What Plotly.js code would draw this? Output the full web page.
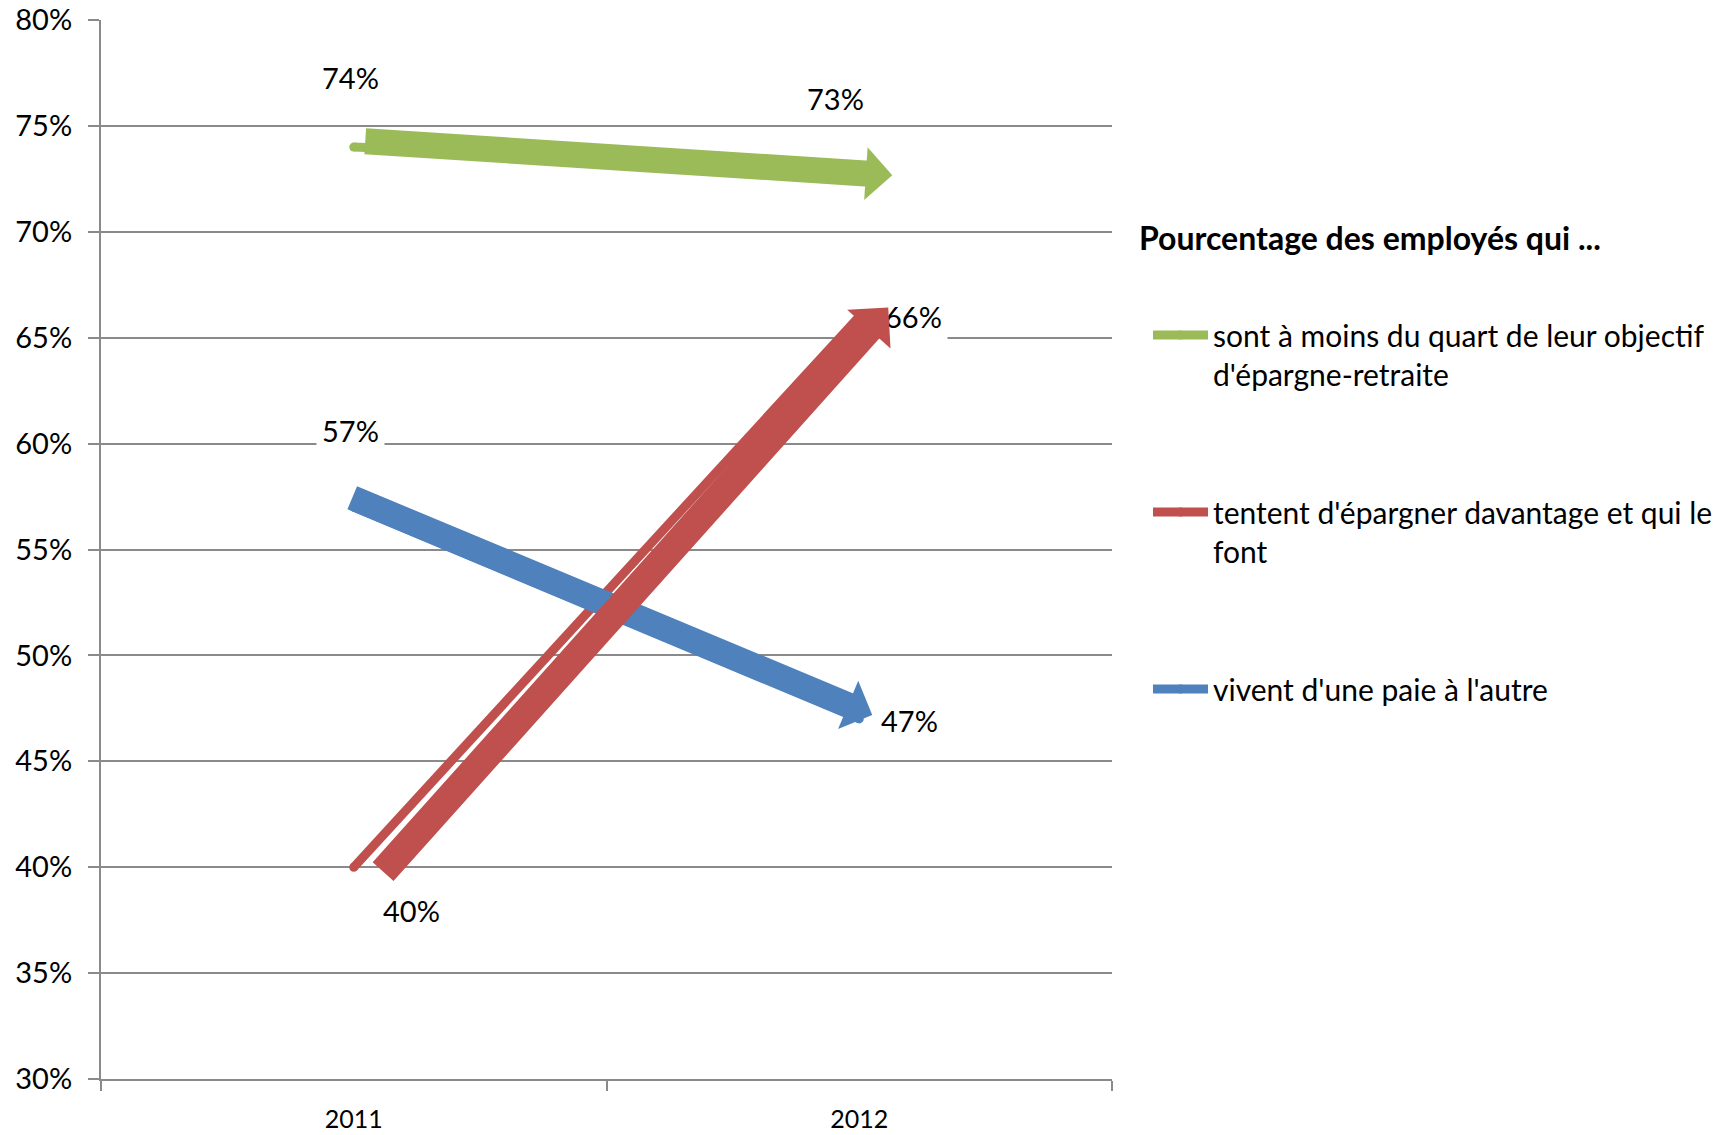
<!DOCTYPE html>
<html><head><meta charset="utf-8">
<script src="https://cdn.plot.ly/plotly-3.0.1.min.js"></script>
<style>html,body{margin:0;padding:0;background:#fff}#chart{width:1730px;height:1135px}</style>
</head><body><div id="chart"></div>
<script>
// ---------- DATA ----------
const categories = ['2011', '2012'];
const seriesNames = [
  "sont à moins du quart de leur objectif<br>d'épargne-retraite",
  "tentent d'épargner davantage et qui le<br>font",
  "vivent d'une paie à l'autre"
];
const quartObjectif = [74, 73];
const epargnerDavantage = [40, 66];
const paieAutre = [57, 47];
const yTickValues = [30, 35, 40, 45, 50, 55, 60, 65, 70, 75, 80];
const legendTitle = 'Pourcentage des employés qui ...';

// ---------- STYLE ----------
const W = 1730, H = 1135;
const M = {l: 101, r: 618, t: 20, b: 56};
const plotW = W - M.l - M.r, plotH = H - M.t - M.b;
const yMin = 30, yMax = 80;
const pxPerCat = plotW / categories.length;
const pxPerPct = plotH / (yMax - yMin);
const FONT = 'Lato, "Open Sans", sans-serif';
const GRID = '#8a8a8a';

// offsets in screen pixels (dx right, dy down) relative to the data points
const series = [
  {name: seriesNames[0], values: quartObjectif, color: '#9BBB59', arrowW: 26, head: 8.8,
   tail: [10, -6], tip: [33, 7], labels: [[-3, -70], [-24, -70]]},
  {name: seriesNames[1], values: epargnerDavantage, color: '#C0504D', arrowW: 28, head: 9.7,
   tail: [28, 6], tip: [29, -9], labels: [[58, 43], [54, 0]]},
  {name: seriesNames[2], values: paieAutre, color: '#4F81BD', arrowW: 25, head: 8.7,
   tail: [-3, -10], tip: [13, -4], labels: [[-3, -77], [50, 2]]}
];

const traces = series.map((s, i) => ({
  type: 'scatter', mode: 'lines+markers', name: s.name,
  x: categories, y: s.values, legendgroup: 'g' + i,
  line: {color: s.color, width: 9},
  marker: {color: s.color, size: 9},
  hoverinfo: 'x+y'
}));

const annotations = [];
// data labels
series.forEach(s => {
  s.values.forEach((v, i) => {
    annotations.push({
      x: i, y: v, xref: 'x', yref: 'y', text: v + '%', showarrow: false,
      xshift: s.labels[i][0], yshift: -s.labels[i][1],
      font: {family: FONT, size: 29, color: '#000'},
      bgcolor: '#ffffff', borderpad: 5
    });
  });
});
// thick arrows (green, blue, red on top): shaft + separate head
[0, 2, 1].forEach(k => {
  const s = series[k];
  // tail & tip in pixel space (x right, y up), relative to category 0 / value 0
  const tx = 0 * pxPerCat + s.tail[0], ty = s.values[0] * pxPerPct - s.tail[1];
  const px = 1 * pxPerCat + s.tip[0],  py = s.values[1] * pxPerPct - s.tip[1];
  const len = Math.hypot(px - tx, py - ty);
  const ux = (px - tx) / len, uy = (py - ty) / len;
  const headLen = 3 * s.head;
  const sx = px - ux * (headLen - 3), sy = py - uy * (headLen - 3);
  const bx = px - ux * headLen, by = py - uy * headLen;
  const toX = v => v / pxPerCat, toY = v => v / pxPerPct;
  annotations.push({
    xref: 'x', yref: 'y', axref: 'x', ayref: 'y',
    x: toX(sx), y: toY(sy), ax: toX(tx), ay: toY(ty),
    text: '', showarrow: true, arrowhead: 0,
    arrowwidth: s.arrowW, arrowcolor: s.color, standoff: 0, startstandoff: 0
  });
  annotations.push({
    xref: 'x', yref: 'y', axref: 'x', ayref: 'y',
    x: toX(px), y: toY(py), ax: toX(bx), ay: toY(by),
    text: '', showarrow: true, arrowhead: 1, arrowsize: s.head,
    arrowwidth: 1, arrowcolor: s.color, standoff: 0, startstandoff: 0
  });
});
// legend title
annotations.push({
  xref: 'paper', yref: 'paper', x: (1137 - M.l) / plotW, y: 1 - (237 - M.t) / plotH,
  xanchor: 'left', yanchor: 'middle', showarrow: false, text: legendTitle,
  font: {family: FONT, size: 32, color: '#000', weight: 700}
});

const layout = {
  width: W, height: H, margin: M,
  paper_bgcolor: '#fff', plot_bgcolor: '#fff',
  showlegend: true,
  legend: {
    x: (1148 - M.l) / plotW, xanchor: 'left',
    y: 1 - (309 - M.t) / plotH, yanchor: 'top',
    font: {family: FONT, size: 30, color: '#000'},
    itemwidth: 55, traceorder: 'grouped', tracegroupgap: 96, valign: 'top',
    bgcolor: 'rgba(0,0,0,0)'
  },
  xaxis: {
    type: 'category', categoryorder: 'array', categoryarray: categories,
    range: [-0.5, categories.length - 0.5],
    tickson: 'boundaries', ticks: 'outside', ticklen: 10, tickwidth: 2, tickcolor: GRID,
    showline: true, linecolor: GRID, linewidth: 2, showgrid: false, zeroline: false,
    tickfont: {family: FONT, size: 25, color: '#000'}, ticklabelstandoff: 17,
    fixedrange: true
  },
  yaxis: {
    range: [yMin, yMax], tickvals: yTickValues, ticktext: yTickValues.map(v => v + '%'),
    ticks: 'outside', ticklen: 11, tickwidth: 2, tickcolor: GRID,
    showline: true, linecolor: GRID, linewidth: 2,
    showgrid: true, gridcolor: GRID, gridwidth: 2, zeroline: false,
    tickfont: {family: FONT, size: 29, color: '#000'}, ticklabelstandoff: 10,
    fixedrange: true
  },
  annotations: annotations
};

Plotly.newPlot('chart', traces, layout, {displayModeBar: false, staticPlot: true});
</script>
</body></html>
